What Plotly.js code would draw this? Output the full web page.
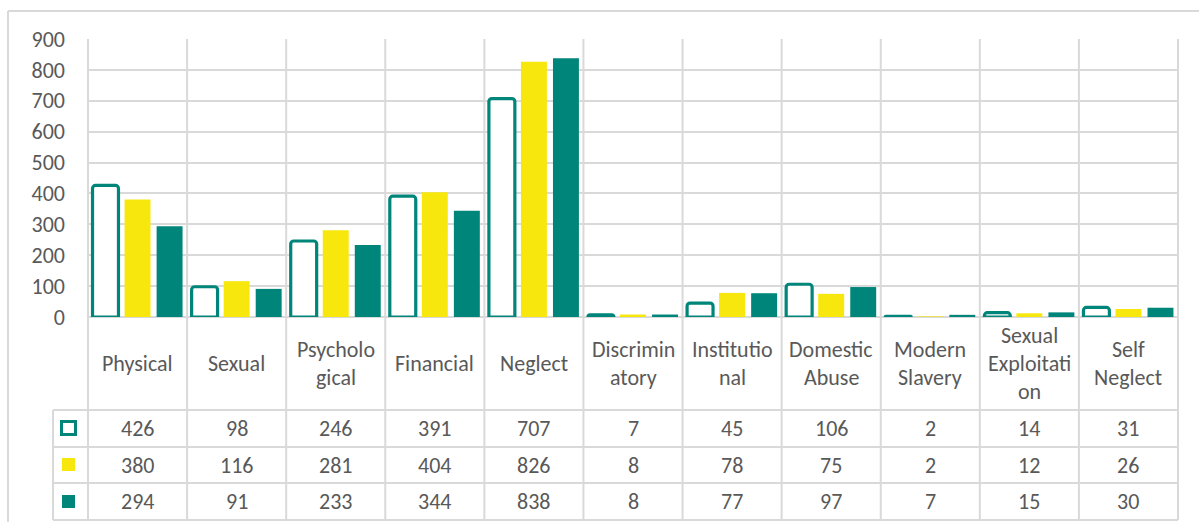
<!DOCTYPE html>
<html>
<head>
<meta charset="utf-8">
<script src="https://cdn.plot.ly/plotly-3.0.1.min.js"></script>
<style>html,body{margin:0;padding:0;background:#fff;}#chart{width:1199px;height:522px;}</style>
</head>
<body>
<div id="chart"></div>
<script>
// ---- data ----
const categories = ['Physical','Sexual','Psychological','Financial','Neglect','Discriminatory','Institutional','Domestic Abuse','Modern Slavery','Sexual Exploitation','Self Neglect'];
const categoryLines = [['Physical'],['Sexual'],['Psycholo','gical'],['Financial'],['Neglect'],['Discrimin','atory'],['Institutio','nal'],['Domestic','Abuse'],['Modern','Slavery'],['Sexual','Exploitati','on'],['Self','Neglect']];
const series1 = [426,98,246,391,707,7,45,106,2,14,31];
const series2 = [380,116,281,404,826,8,78,75,2,12,26];
const series3 = [294,91,233,344,838,8,77,97,7,15,30];
const yTicks = [0,100,200,300,400,500,600,700,800,900];

// ---- layout helpers (pixel -> paper) ----
const W = 1199, H = 522;
const L = 88, R = 1178, T = 39, B = 317;
const px = x => (x - L) / (R - L);
const py = y => (B - y) / (B - T);
const TEAL = '#00857A', YELLOW = '#F7E70C', GRID = '#d9d9d9', TXT = '#595959';
const FONT = 'Carlito, Lato, sans-serif';
const FS = 22;
const n = categories.length;
const colW = (R - L) / n;

const traces = [
  {type:'bar', x:categories, y:series1, name:'Series 1',
   marker:{color:'#ffffff', line:{color:TEAL, width:3.2}, cornerradius:3}, hoverinfo:'skip'},
  {type:'bar', x:categories, y:series2, name:'Series 2',
   marker:{color:YELLOW, line:{width:0}}, hoverinfo:'skip'},
  {type:'bar', x:categories, y:series3, name:'Series 3',
   marker:{color:TEAL, line:{width:0}}, hoverinfo:'skip'}
];

const shapes = [];
const line = (x0,y0,x1,y1,color,width) => shapes.push({type:'line', xref:'paper', yref:'paper',
  x0:px(x0), y0:py(y0), x1:px(x1), y1:py(y1), line:{color:color||GRID, width:width||2}, layer:'below'});
// outer chart border (top and left visible)
line(8, 11, 1210, 11, '#d9d9d9', 2);
line(8, 11, 8, 530, '#d9d9d9', 2);
// vertical category boundaries, plot + table
for (let i = 0; i <= n; i++) {
  const x = L + i * colW;
  line(x, T, x, 520);
}
// table rows
[410, 447, 483, 520].forEach(y => line(53, y, R, y));
line(53, 410, 53, 520);

// legend keys
shapes.push({type:'rect', xref:'paper', yref:'paper', x0:px(61.5), x1:px(75.5), y0:py(421.5), y1:py(434.5),
  fillcolor:'#ffffff', line:{color:TEAL, width:3}});
shapes.push({type:'rect', xref:'paper', yref:'paper', x0:px(62), x1:px(75), y0:py(458), y1:py(471),
  fillcolor:YELLOW, line:{width:0}});
shapes.push({type:'rect', xref:'paper', yref:'paper', x0:px(62), x1:px(75), y0:py(495), y1:py(508),
  fillcolor:TEAL, line:{width:0}});

const annotations = [];
const font = {family:FONT, size:FS, color:TXT};
const lineGap = 28, labelMid = 363;
categoryLines.forEach((lines, i) => {
  const start = labelMid - (lines.length - 1) * lineGap / 2;
  lines.forEach((t, k) => annotations.push({xref:'x', yref:'paper', x:categories[i], y:py(start + k*lineGap),
    text:t, showarrow:false, font:font, xanchor:'center', yanchor:'middle'}));
});
const rowY = [428, 465, 502];
[series1, series2, series3].forEach((s, r) => s.forEach((v, i) => annotations.push({
  xref:'x', yref:'paper', x:categories[i], y:py(rowY[r]), text:String(v), showarrow:false,
  font:font, xanchor:'center', yanchor:'middle'})));

const layout = {
  width:W, height:H,
  margin:{l:L, r:W-R, t:T, b:H-B, pad:0},
  paper_bgcolor:'#ffffff', plot_bgcolor:'rgba(0,0,0,0)',
  showlegend:false,
  barmode:'group', bargap:0.03, bargroupgap:0.19,
  font:{family:FONT, color:TXT},
  xaxis:{type:'category', showticklabels:false, showgrid:false, zeroline:false, showline:false, ticks:'', fixedrange:true},
  yaxis:{range:[0,900], tickvals:yTicks, showgrid:true, gridcolor:GRID, gridwidth:2,
    zeroline:true, zerolinecolor:GRID, zerolinewidth:2, showline:false, ticks:'',
    ticklabelstandoff:22, tickfont:{family:FONT, size:FS, color:TXT}, fixedrange:true},
  shapes:shapes, annotations:annotations
};
Plotly.newPlot('chart', traces, layout, {staticPlot:true, displayModeBar:false});
</script>
</body>
</html>
